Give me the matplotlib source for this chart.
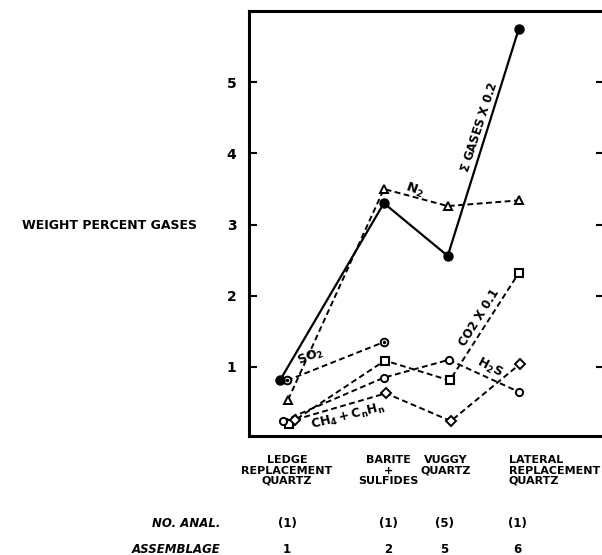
import matplotlib
matplotlib.use("Agg")
import matplotlib.pyplot as plt

plt.rcParams['font.family'] = ['DejaVu Sans']
plt.rcParams['font.weight'] = 'bold'
plt.rcParams['mathtext.fontset'] = 'dejavusans'

# category positions (unequal spacing as in the original figure)
cat_x = [0.0, 1.0, 1.62, 2.31]
cat_labels = ["LEDGE\nREPLACEMENT\nQUARTZ", "BARITE\n+\nSULFIDES", "VUGGY\nQUARTZ", "LATERAL\nREPLACEMENT\nQUARTZ"]
no_anal = ["(1)", "(1)", "(5)", "(1)"]
assemblage = ["1", "2", "5", "6"]

# series values (weight percent)
x_total = [-0.01, 1.0, 1.62, 2.31]
total = [0.81, 3.30, 2.56, 5.75]          # sum gases x 0.2
x_n2 = [0.07, 1.0, 1.62, 2.31]
n2 = [0.54, 3.50, 3.26, 3.34]
x_so2 = [0.06, 1.0]
so2 = [0.81, 1.35]
x_co2 = [0.08, 1.01, 1.64, 2.31]
co2 = [0.20, 1.09, 0.81, 2.32]            # CO2 x 0.1
x_h2s = [0.02, 1.0, 1.63, 2.31]
h2s = [0.24, 0.85, 1.10, 0.65]
x_ch4 = [0.14, 1.02, 1.65, 2.32]
ch4 = [0.26, 0.63, 0.24, 1.04]

fig = plt.figure(figsize=(6.02, 5.55), dpi=100)
ax = fig.add_axes([0.4136, 0.2144, 0.5895, 0.7658])

dash = (0, (3.0, 1.8))
ax.plot(x_total, total, color='black', lw=1.6, marker='o', ms=6.5, mfc='black', zorder=5)
ax.plot(x_n2, n2, color='black', lw=1.4, ls=dash, marker='^', ms=6, mfc='white', mew=1.4)
ax.plot(x_so2, so2, color='black', lw=1.4, ls=dash, marker='o', ms=5.5, mfc='white', mew=1.4)
ax.plot(x_so2, so2, ls='none', marker='o', ms=1.5, color='black')
ax.plot(x_co2, co2, color='black', lw=1.4, ls=dash, marker='s', ms=5.5, mfc='white', mew=1.5)
ax.plot(x_h2s, h2s, color='black', lw=1.4, ls=dash, marker='o', ms=5.2, mfc='white', mew=1.4)
ax.plot(x_ch4, ch4, color='black', lw=1.4, ls=dash, marker='D', ms=5.2, mfc='white', mew=1.4)

# in-plot series labels
fs = 8.5
ax.text(1.93, 4.36, r'$\mathbf{\Sigma}$ GASES X 0.2', rotation=72, ha='center', va='center', fontsize=fs)
ax.text(1.30, 3.48, r'$\mathbf{N_2}$', rotation=-20, ha='center', va='center', fontsize=fs + 1)
ax.text(0.29, 1.14, r'$\mathbf{SO_2}$', rotation=22, ha='center', va='center', fontsize=fs + 0.5)
ax.text(1.93, 1.70, 'CO2 X 0.1', rotation=58, ha='center', va='center', fontsize=fs)
ax.text(2.03, 0.99, r'$\mathbf{H_2S}$', rotation=-28, ha='center', va='center', fontsize=fs + 0.5)
ax.text(0.65, 0.30, r'$\mathbf{CH_4 + C_nH_n}$', rotation=14, ha='center', va='center', fontsize=fs + 0.5)

ax.set_xlim(-0.31, 3.136)
ax.set_ylim(0.03, 6.0)
ax.set_yticks([1, 2, 3, 4, 5])
ax.set_xticks([])
ax.tick_params(axis='y', direction='in', length=6, width=1.5, pad=9,
               labelsize=10, right=True)
for s in ax.spines.values():
    s.set_linewidth(2.2)

ax.text(-0.816, 2.99, 'WEIGHT PERCENT GASES', ha='right', va='center', fontsize=9)

# category labels and rows below the axes
trans = ax.get_xaxis_transform()
lab_x = [0.06, 1.04, 1.60, 2.21]
num_x = [0.06, 1.04, 1.59, 2.30]
for i, lab in enumerate(cat_labels):
    if i == 3:
        ax.text(lab_x[i], -0.045, lab, transform=trans, ha='left', va='top',
                fontsize=8, linespacing=1.05, multialignment='left')
    else:
        ax.text(lab_x[i], -0.045, lab, transform=trans, ha='center', va='top',
                fontsize=8, linespacing=1.05)
    ax.text(num_x[i], -0.207, no_anal[i], transform=trans, ha='center', va='center', fontsize=8.5)
    ax.text(num_x[i], -0.266, assemblage[i], transform=trans, ha='center', va='center', fontsize=8.5)

ax.text(-0.59, -0.207, 'NO. ANAL.', transform=trans, ha='right', va='center',
        fontsize=8.5, style='italic')
ax.text(-0.59, -0.266, 'ASSEMBLAGE', transform=trans, ha='right', va='center',
        fontsize=8.5, style='italic')

fig.savefig('out.png', dpi=100)
